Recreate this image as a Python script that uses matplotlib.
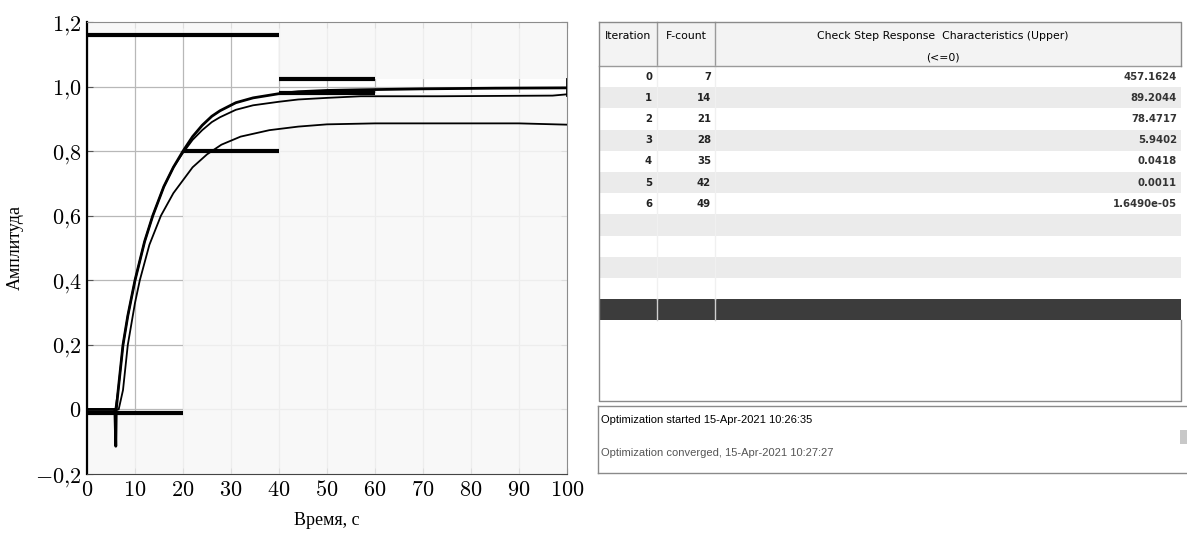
import matplotlib
matplotlib.use('Agg')
import matplotlib.pyplot as plt
from matplotlib.ticker import FuncFormatter

plt.rcParams['mathtext.fontset'] = 'cm'

# step responses
t1 = [0, 5.8, 6.0, 6.1, 6.5, 7.5, 8.5, 10, 12, 13.7, 16, 18, 20, 22, 24, 26, 27.7, 31, 34.6, 40, 44, 50, 57, 70, 85, 100]
y1 = [0, 0, -0.114, 0, 0.06, 0.2, 0.29, 0.4, 0.52, 0.6, 0.69, 0.75, 0.8, 0.845, 0.88, 0.908, 0.925, 0.95, 0.965, 0.978, 0.984, 0.988, 0.99, 0.993, 0.995, 0.996]
t3 = [0, 5.9, 6.5, 7.5, 8.5, 10, 12, 13.7, 16, 18, 20, 22, 24, 26, 27.7, 31, 34.6, 40, 44, 50, 57, 73, 97, 100]
y3 = [0, 0, 0.06, 0.2, 0.29, 0.4, 0.52, 0.6, 0.69, 0.75, 0.795, 0.835, 0.865, 0.89, 0.905, 0.928, 0.942, 0.953, 0.96, 0.965, 0.97, 0.97, 0.972, 0.976]
t4 = [0, 6.6, 7.5, 8.5, 10, 11, 13, 15.4, 18, 20, 22, 25, 28, 32, 38, 44, 50, 60, 90, 100]
y4 = [0, 0, 0.06, 0.2, 0.33, 0.4, 0.51, 0.6, 0.67, 0.71, 0.75, 0.79, 0.82, 0.845, 0.865, 0.876, 0.883, 0.886, 0.886, 0.882]

# bound segments: (t_start, t_end, level)
lower_bounds = [(0, 20, -0.012), (20, 40, 0.8), (40, 100, 0.98)]
upper_bounds = [(0, 40, 1.16), (40, 100, 1.025)]
thick_segments = [(0, 20, -0.012), (20, 40, 0.8), (40, 60, 0.98), (0, 40, 1.16), (40, 60, 1.025)]

# optimisation table
iterations = [0, 1, 2, 3, 4, 5, 6]
fcount = [7, 14, 21, 28, 35, 42, 49]
constraint = ['457.1624', '89.2044', '78.4717', '5.9402', '0.0418', '0.0011', '1.6490e-05']

fig = plt.figure(figsize=(11.87, 5.34), dpi=100)

# ---------------- right panel in pixel coordinates ----------------
bg = fig.add_axes([0, 0, 1, 1])
bg.set_xlim(0, 1187)
bg.set_ylim(534, 0)
bg.axis('off')
bg.patch.set_alpha(0)

L, R = 599, 1181
c1, c2 = 657, 715
top, head_bot = 22, 66
rh = 21.2
# row bands
for i in range(12):
    y0 = head_bot + i * rh
    if i == 11:
        col = '#3c3c3c'
    elif i % 2 == 1:
        col = '#ebebeb'
    else:
        col = 'white'
    bg.fill_between([L, R], y0, y0 + rh, color=col, lw=0)
bg.fill_between([L, R], top, head_bot, color='#f3f3f3', lw=0)
# column separators
for xc in (c1, c2):
    bg.plot([xc, xc], [top, head_bot], color='#9a9a9a', lw=1)
    bg.plot([xc, xc], [head_bot, head_bot + 11 * rh], color='#f0f0f0', lw=1)
    bg.plot([xc, xc], [head_bot + 11 * rh, head_bot + 12 * rh], color='#d0d0d0', lw=1)
bg.plot([L, R], [head_bot, head_bot], color='#9a9a9a', lw=1)
bg.plot([L, R, R], [top, top, head_bot], color='#8a8a8a', lw=1)
bg.plot([L, L, R, R], [top, 401, 401, head_bot + 12 * rh], color='#8a8a8a', lw=1)

hf = 'DejaVu Sans'
bg.text((L + c1) / 2, 36, 'Iteration', ha='center', va='center', fontsize=7.8, family=hf)
bg.text((c1 + c2) / 2, 36, 'F-count', ha='center', va='center', fontsize=7.8, family=hf)
bg.text((c2 + R) / 2 - 5, 36, 'Check Step Response  Characteristics (Upper)', ha='center', va='center',
        fontsize=7.8, family=hf)
bg.text((c2 + R) / 2 - 5, 57, '(<=0)', ha='center', va='center', fontsize=7.8, family=hf)
for i, (it, fc, cv) in enumerate(zip(iterations, fcount, constraint)):
    yc = head_bot + (i + 0.5) * rh
    bg.text(c1 - 5, yc, str(it), ha='right', va='center', fontsize=7.3, weight='bold', family=hf, color='#222222')
    bg.text(c2 - 4, yc, str(fc), ha='right', va='center', fontsize=7.3, weight='bold', family=hf, color='#222222')
    bg.text(R - 4, yc, cv, ha='right', va='center', fontsize=7.3, weight='bold', family=hf, color='#333333')

# message box
bg.plot([598, 1187], [406, 406], color='#8a8a8a', lw=1)
bg.plot([598, 1187], [473, 473], color='#8a8a8a', lw=1)
bg.plot([598, 598], [406, 473], color='#8a8a8a', lw=1)
bg.text(601, 420, 'Optimization started 15-Apr-2021 10:26:35', ha='left', va='center', fontsize=8,
        family='Liberation Sans')
bg.text(601, 453, 'Optimization converged, 15-Apr-2021 10:27:27', ha='left', va='center', fontsize=8,
        color='#555555', family='Liberation Sans')
bg.fill_between([1180, 1187], 430, 444, color='#c8c8c8', lw=0)

# ---------------- step response chart ----------------
ax = fig.add_axes([87 / 1187, 60 / 534, 480 / 1187, 452 / 534])
ax.set_xlim(0, 100)
ax.set_ylim(-0.2, 1.2)
ax.set_xticks(range(0, 101, 10))
ax.set_yticks([-0.2, 0, 0.2, 0.4, 0.6, 0.8, 1.0, 1.2])
ax.grid(True, color='#b8b8b8', lw=0.9, zorder=0)
ax.set_axisbelow(True)

shade = '#f7f7f7'
for a, b, lv in lower_bounds:
    ax.fill_between([a, b], -0.2, lv, color=shade, alpha=0.85, lw=0, zorder=1)
for a, b, lv in upper_bounds:
    ax.fill_between([a, b], lv, 1.2, color=shade, alpha=0.85, lw=0, zorder=1)
for a, b, lv in thick_segments:
    ax.plot([a, b], [lv, lv], color='black', lw=3, solid_capstyle='butt', zorder=3)
ax.plot([100, 100], [0.975, 1.025], color='black', lw=2, zorder=3)

ax.plot(t4, y4, color='black', lw=1.3, zorder=4)
ax.plot(t3, y3, color='black', lw=1.3, zorder=4)
ax.plot(t1, y1, color='black', lw=2.0, zorder=4)


def fmt(v, pos):
    s = ('%.1f' % v).replace('.', '{,}')
    if abs(v) < 1e-9:
        s = '0'
    return '$' + s + '$'


ax.yaxis.set_major_formatter(FuncFormatter(fmt))
ax.xaxis.set_major_formatter(FuncFormatter(lambda v, p: '$%d$' % v))
ax.tick_params(direction='in', top=True, right=True, length=4, width=0.8, color='#555555',
               labelsize=16, pad=4)
for s in ('top', 'right'):
    ax.spines[s].set_color('#8c8c8c')
ax.spines['bottom'].set_color('#444444')
ax.spines['left'].set_linewidth(1.6)
ax.set_xlabel('Время, с', family='Liberation Serif', fontsize=13, labelpad=9)
ax.set_ylabel('Амплитуда', family='Liberation Serif', fontsize=13, labelpad=8)

fig.savefig('out.png', dpi=100)
